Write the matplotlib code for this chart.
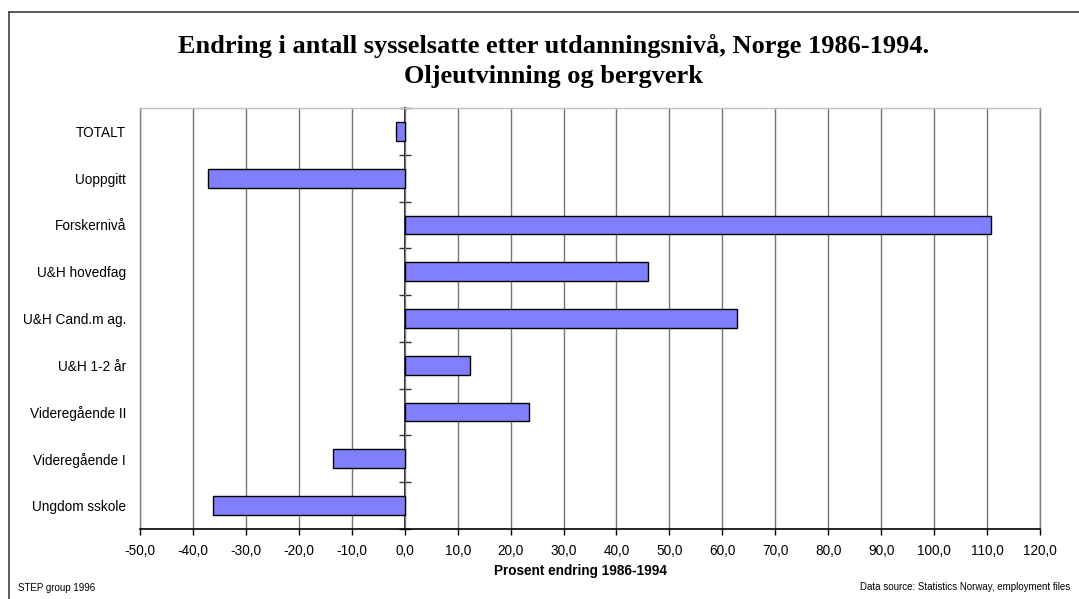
import matplotlib
matplotlib.use("Agg")
import matplotlib.pyplot as plt
from matplotlib.lines import Line2D
import numpy as np

categories = ["TOTALT", "Uoppgitt", "Forskernivå", "U&H hovedfag", "U&H Cand.m ag.",
              "U&H 1-2 år", "Videregående II", "Videregående I", "Ungdom sskole"]
values = [-1.6, -37.2, 110.7, 45.9, 62.7, 12.3, 23.5, -13.5, -36.2]
xticks = np.arange(-50, 121, 10)
xticklabels = [f"{v:.1f}".replace(".", ",") for v in xticks]

title_line1 = "Endring i antall sysselsatte etter utdanningsnivå, Norge 1986-1994."
title_line2 = "Oljeutvinning og bergverk"
xlabel = "Prosent endring 1986-1994"
left_note = "STEP group 1996"
right_note = "Data source: Statistics Norway, employment files"

W, H = 1079, 599
fig = plt.figure(figsize=(W / 100, H / 100), dpi=100)
fig.patch.set_facecolor("white")

# outer frame (top and left edges visible)
fig.add_artist(Line2D([9 / W, 1.0], [1 - 12 / H, 1 - 12 / H], color="#404040", lw=1.2))
fig.add_artist(Line2D([9 / W, 9 / W], [1 - 12 / H, 0.0], color="#404040", lw=1.2))

ax = fig.add_axes([140 / W, 1 - 529 / H, (1040 - 140) / W, (529 - 108) / H])
y = np.arange(len(categories))
ax.barh(y, values, height=0.4, color="#8080FF", edgecolor="black", linewidth=1.0, zorder=3)

ax.set_xlim(-50, 120)
ax.set_ylim(len(categories) - 0.5, -0.5)
ax.set_xticks(xticks)
ax.set_xticklabels(xticklabels, fontsize=9.8, family="Liberation Sans")
ax.tick_params(axis="x", direction="out", length=4, width=1, color="black", pad=7)
ax.xaxis.grid(True, color="#777777", lw=1.0, zorder=0)
ax.set_axisbelow(True)

ax.set_yticks(y)
ax.set_yticklabels(categories, fontsize=9.8, family="Liberation Sans")
ax.tick_params(axis="y", length=0, pad=10)

for s in ["left", "right"]:
    ax.spines[s].set_color("#808080")
    ax.spines[s].set_linewidth(1.0)
ax.spines["top"].set_color("#c0c0c0")
ax.spines["top"].set_linewidth(1.0)
ax.spines["bottom"].set_color("black")
ax.spines["bottom"].set_linewidth(1.2)

# zero axis with category-boundary ticks
zero_frac = (0 - (-50)) / (120 - (-50))
sec = ax.secondary_yaxis(zero_frac)
sec.set_yticks(np.arange(len(categories) + 1) - 0.5)
sec.set_yticklabels([])
sec.tick_params(direction="inout", length=8, width=1, color="#333333")
sec.spines["left"].set_color("black")
sec.spines["left"].set_linewidth(1.2)
sec.spines["left"].set_zorder(4)

fig.text(554 / W, 1 - 46 / H, title_line1, ha="center", va="center", fontsize=19,
         fontweight="bold", family="Liberation Serif")
fig.text(554 / W, 1 - 76 / H, title_line2, ha="center", va="center", fontsize=19,
         fontweight="bold", family="Liberation Serif")
fig.text(581 / W, 1 - 571 / H, xlabel, ha="center", va="center", fontsize=9.8,
         fontweight="bold", family="Liberation Sans")
fig.text(18 / W, 1 - 588 / H, left_note, ha="left", va="center", fontsize=7,
         family="Liberation Sans")
fig.text(1070 / W, 1 - 587 / H, right_note, ha="right", va="center", fontsize=7,
         family="Liberation Sans")

fig.savefig("out.png", dpi=100)
